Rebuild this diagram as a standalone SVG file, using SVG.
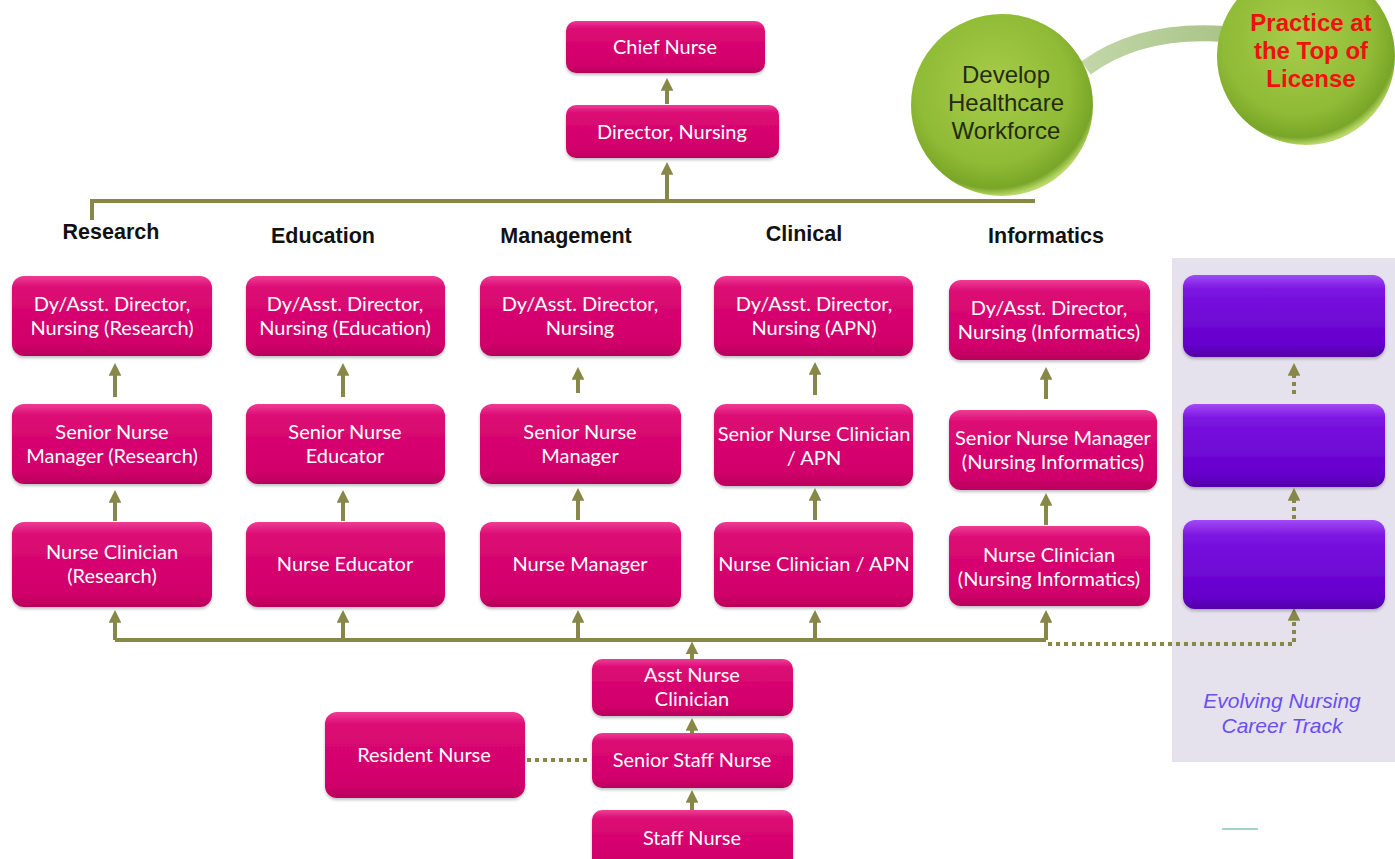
<svg xmlns="http://www.w3.org/2000/svg" width="1395" height="859" viewBox="0 0 1395 859">
<defs>
<linearGradient id="pink" x1="0" y1="0" x2="0" y2="1">
<stop offset="0" stop-color="#ef3c95"/>
<stop offset="0.15" stop-color="#dc0a74"/>
<stop offset="0.85" stop-color="#d0006a"/>
<stop offset="1" stop-color="#b8005c"/>
</linearGradient>
<linearGradient id="purple" x1="0" y1="0" x2="0" y2="1">
<stop offset="0" stop-color="#a24af6"/>
<stop offset="0.18" stop-color="#7a14e0"/>
<stop offset="0.85" stop-color="#6600cc"/>
<stop offset="1" stop-color="#5200a8"/>
</linearGradient>
<radialGradient id="green" cx="0.45" cy="0.4" r="0.6">
<stop offset="0" stop-color="#a8cc4a"/>
<stop offset="0.7" stop-color="#8fbb36"/>
<stop offset="0.93" stop-color="#7aa628"/>
<stop offset="1" stop-color="#b8d86a"/>
</radialGradient>
<linearGradient id="band" x1="0" y1="0" x2="1" y2="0">
<stop offset="0" stop-color="#c2d6a8"/>
<stop offset="1" stop-color="#a9c488"/>
</linearGradient>
<marker id="ah" viewBox="0 0 10 10" refX="1" refY="5" markerWidth="3.2" markerHeight="3.2" orient="auto" markerUnits="strokeWidth">
<path d="M0,0 L10,5 L0,10 Z" fill="#878747"/>
</marker>
<filter id="sh" x="-10%" y="-10%" width="120%" height="130%">
<feDropShadow dx="0" dy="2" stdDeviation="1.5" flood-color="#000" flood-opacity="0.25"/>
</filter>
</defs>
<style>
.bx{fill:url(#pink);filter:url(#sh)}
.pb{fill:url(#purple);filter:url(#sh)}
.t{font-family:Lato,"Liberation Sans",sans-serif;font-size:20px;fill:#ffffff;text-anchor:middle}
.h{font-family:"Liberation Sans",Arial,sans-serif;font-size:21.5px;font-weight:bold;fill:#111;text-anchor:middle}
.ln{stroke:#878747;stroke-width:4;fill:none}
.ar{stroke:#878747;stroke-width:4;fill:none;marker-end:url(#ah)}
.dt{stroke:#878747;stroke-width:4;fill:none;stroke-dasharray:4 4}
.da{stroke:#878747;stroke-width:4;fill:none;stroke-dasharray:4 4;marker-end:url(#ah)}
.ct{font-family:"Liberation Sans",Arial,sans-serif;font-size:24px;text-anchor:middle}
</style>
<rect width="1395" height="859" fill="#ffffff"/>
<rect x="1172" y="258" width="223" height="504" fill="#e5e1ed"/>

<g id="connectors">
<path class="ln" d="M92,220 V201 H1035"/>
<path class="ar" d="M667,199 V173.5"/>
<path class="ar" d="M667,104 V89.5"/>
<path class="ln" d="M115,640 H1046"/>
<path class="ar" d="M115,640 V621.5"/>
<path class="ar" d="M343,640 V621.5"/>
<path class="ar" d="M578,640 V621.5"/>
<path class="ar" d="M815,640 V621.5"/>
<path class="ar" d="M1046,640 V621.5"/>
<path class="ar" d="M692,659 V653"/>
<path class="ar" d="M692,733 V729.5"/>
<path class="ar" d="M692,810 V801.5"/>
<path class="ar" d="M115,397 V374.5"/>
<path class="ar" d="M115,521 V501.5"/>
<path class="ar" d="M343,397 V374.5"/>
<path class="ar" d="M343,521 V501.5"/>
<path class="ar" d="M578,393 V378.5"/>
<path class="ar" d="M578,520 V499.5"/>
<path class="ar" d="M815,395 V373.5"/>
<path class="ar" d="M815,520 V499.5"/>
<path class="ar" d="M1046,399 V378.5"/>
<path class="ar" d="M1046,525 V504.5"/>
<path class="da" d="M1048,644 H1294 V619.5"/>
<path class="da" d="M1294,394 V374.5"/>
<path class="da" d="M1294,519 V499.5"/>
<path class="dt" d="M527,760 H590"/>
</g>

<path d="M1086,68 Q1140,28 1225,34" stroke="url(#band)" stroke-width="16" fill="none"/>

<g id="develop">
<circle cx="1002" cy="105" r="91" fill="url(#green)"/>
<text class="ct" fill="#262a10"><tspan x="1006" y="83">Develop</tspan><tspan x="1006" y="111">Healthcare</tspan><tspan x="1006" y="139">Workforce</tspan></text>
</g>
<g id="practice">
<circle cx="1306" cy="56" r="89" fill="url(#green)"/>
<text class="ct" font-weight="bold" fill="#f01010"><tspan x="1311" y="31">Practice at</tspan><tspan x="1311" y="59">the Top of</tspan><tspan x="1311" y="87">License</tspan></text>
</g>

<g id="chief"><rect class="bx" x="566" y="21" width="199" height="52" rx="10"/><text class="t" x="665" y="54">Chief Nurse</text></g>
<g id="director"><rect class="bx" x="566" y="105" width="213" height="53" rx="10"/><text class="t" x="672" y="139">Director, Nursing</text></g>

<text class="h" x="111" y="239">Research</text>
<text class="h" x="323" y="243">Education</text>
<text class="h" x="566" y="243">Management</text>
<text class="h" x="804" y="241">Clinical</text>
<text class="h" x="1046" y="243">Informatics</text>

<g id="r1"><rect class="bx" x="12" y="276" width="200" height="80" rx="12"/><text class="t"><tspan x="112" y="311">Dy/Asst. Director,</tspan><tspan x="112" y="335">Nursing (Research)</tspan></text></g>
<g id="r2"><rect class="bx" x="12" y="404" width="200" height="80" rx="12"/><text class="t"><tspan x="112" y="439">Senior Nurse</tspan><tspan x="112" y="463">Manager (Research)</tspan></text></g>
<g id="r3"><rect class="bx" x="12" y="522" width="200" height="85" rx="12"/><text class="t"><tspan x="112" y="559">Nurse Clinician</tspan><tspan x="112" y="583">(Research)</tspan></text></g>

<g id="e1"><rect class="bx" x="246" y="276" width="199" height="80" rx="12"/><text class="t"><tspan x="345" y="311">Dy/Asst. Director,</tspan><tspan x="345" y="335">Nursing (Education)</tspan></text></g>
<g id="e2"><rect class="bx" x="246" y="404" width="199" height="80" rx="12"/><text class="t"><tspan x="345" y="439">Senior Nurse</tspan><tspan x="345" y="463">Educator</tspan></text></g>
<g id="e3"><rect class="bx" x="246" y="522" width="199" height="85" rx="12"/><text class="t" x="345" y="571">Nurse Educator</text></g>

<g id="m1"><rect class="bx" x="480" y="276" width="201" height="80" rx="12"/><text class="t"><tspan x="580" y="311">Dy/Asst. Director,</tspan><tspan x="580" y="335">Nursing</tspan></text></g>
<g id="m2"><rect class="bx" x="480" y="404" width="201" height="80" rx="12"/><text class="t"><tspan x="580" y="439">Senior Nurse</tspan><tspan x="580" y="463">Manager</tspan></text></g>
<g id="m3"><rect class="bx" x="480" y="522" width="201" height="85" rx="12"/><text class="t" x="580" y="571">Nurse Manager</text></g>

<g id="c1"><rect class="bx" x="714" y="276" width="199" height="80" rx="12"/><text class="t"><tspan x="814" y="311">Dy/Asst. Director,</tspan><tspan x="814" y="335">Nursing (APN)</tspan></text></g>
<g id="c2"><rect class="bx" x="714" y="404" width="199" height="82" rx="12"/><text class="t"><tspan x="814" y="441">Senior Nurse Clinician</tspan><tspan x="814" y="465">/ APN</tspan></text></g>
<g id="c3"><rect class="bx" x="714" y="522" width="199" height="85" rx="12"/><text class="t" x="814" y="571">Nurse Clinician / APN</text></g>

<g id="i1"><rect class="bx" x="949" y="280" width="201" height="80" rx="12"/><text class="t"><tspan x="1049" y="315">Dy/Asst. Director,</tspan><tspan x="1049" y="339">Nursing (Informatics)</tspan></text></g>
<g id="i2"><rect class="bx" x="949" y="410" width="208" height="80" rx="12"/><text class="t"><tspan x="1053" y="445">Senior Nurse Manager</tspan><tspan x="1053" y="469">(Nursing Informatics)</tspan></text></g>
<g id="i3"><rect class="bx" x="949" y="526" width="201" height="80" rx="12"/><text class="t"><tspan x="1049" y="562">Nurse Clinician</tspan><tspan x="1049" y="586">(Nursing Informatics)</tspan></text></g>

<g id="p1"><rect class="pb" x="1183" y="275" width="202" height="82" rx="12"/></g>
<g id="p2"><rect class="pb" x="1183" y="404" width="202" height="83" rx="12"/></g>
<g id="p3"><rect class="pb" x="1183" y="520" width="202" height="89" rx="12"/></g>

<text font-family="'Liberation Sans',Arial,sans-serif" font-size="21" font-style="italic" fill="#6a4ff0" text-anchor="middle"><tspan x="1282" y="708">Evolving Nursing</tspan><tspan x="1282" y="733">Career Track</tspan></text>

<g id="asst"><rect class="bx" x="592" y="659" width="201" height="57" rx="10"/><text class="t"><tspan x="692" y="682">Asst Nurse</tspan><tspan x="692" y="706">Clinician</tspan></text></g>
<g id="senior"><rect class="bx" x="592" y="733" width="201" height="55" rx="10"/><text class="t" x="692" y="767">Senior Staff Nurse</text></g>
<g id="staff"><rect class="bx" x="592" y="810" width="201" height="60" rx="10"/><text class="t" x="692" y="845">Staff Nurse</text></g>
<g id="resident"><rect class="bx" x="325" y="712" width="200" height="86" rx="12"/><text class="t" x="424" y="762">Resident Nurse</text></g>

<line x1="1222" y1="829" x2="1258" y2="829" stroke="#9fd6c8" stroke-width="2"/>
</svg>
